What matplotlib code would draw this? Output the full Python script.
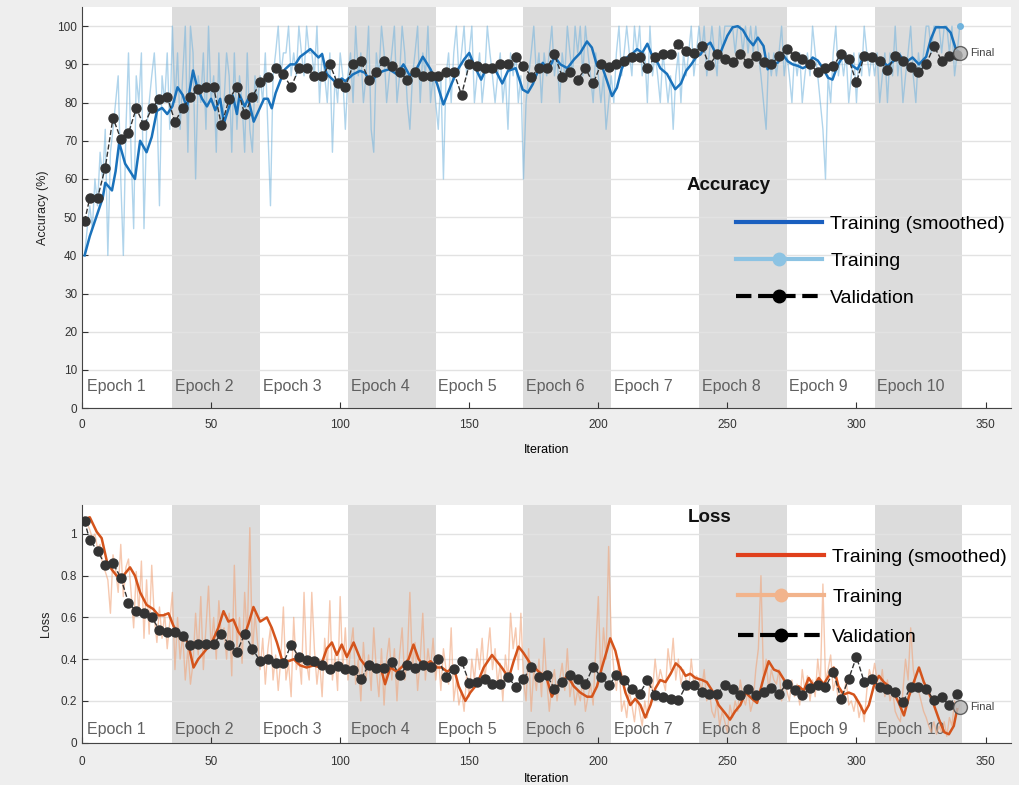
import numpy as np
import matplotlib
matplotlib.use("Agg")
import matplotlib.pyplot as plt
from matplotlib.lines import Line2D

plt.rcParams['font.family'] = ['Liberation Sans', 'DejaVu Sans']

# iterations per epoch and number of epochs
epoch_len = 34
n_epochs = 10

# raw training accuracy (%), one value per iteration, one row per epoch
train_acc = [
    40, 47, 53, 47, 60, 53, 67, 60, 73, 40, 67, 73, 80, 87, 60, 40, 73, 93, 67, 47, 87, 80, 93, 47, 73, 80, 87, 93, 80, 53, 87, 80, 93, 73,
    100, 80, 93, 73, 87, 100, 67, 100, 93, 60, 87, 80, 93, 73, 100, 80, 87, 67, 93, 73, 80, 93, 87, 67, 93, 73, 87, 80, 67, 93, 73, 67, 87, 80,
    87, 80, 93, 73, 53, 87, 93, 100, 87, 93, 93, 100, 87, 93, 87, 100, 93, 87, 100, 93, 93, 87, 100, 80, 93, 87, 80, 93, 67, 87, 80, 93, 87, 73,
    87, 93, 80, 100, 87, 93, 80, 87, 100, 73, 67, 93, 87, 100, 93, 80, 87, 93, 100, 80, 87, 100, 93, 80, 73, 87, 93, 100, 80, 93, 87, 100, 80, 87,
    80, 73, 87, 60, 87, 93, 80, 93, 100, 87, 93, 100, 87, 93, 100, 80, 87, 93, 80, 87, 100, 93, 87, 80, 87, 93, 80, 87, 73, 93, 87, 93, 80, 87,
    60, 80, 87, 93, 100, 87, 93, 80, 93, 87, 93, 100, 87, 93, 80, 93, 87, 100, 93, 87, 100, 93, 100, 87, 100, 93, 87, 80, 93, 87, 80, 87, 73, 80,
    87, 80, 93, 100, 87, 93, 100, 93, 87, 100, 93, 100, 87, 93, 80, 100, 87, 93, 87, 80, 93, 87, 80, 87, 73, 87, 93, 80, 93, 87, 93, 100, 87, 93,
    100, 93, 100, 87, 93, 100, 93, 87, 100, 93, 100, 100, 100, 100, 93, 100, 100, 93, 100, 93, 100, 93, 100, 93, 87, 80, 73, 93, 87, 93, 87, 93, 100, 87,
    93, 87, 80, 93, 87, 93, 80, 87, 93, 87, 100, 93, 87, 80, 73, 60, 87, 80, 93, 100, 87, 93, 87, 93, 80, 87, 93, 80, 93, 87, 100, 93, 87, 93,
    87, 93, 80, 87, 93, 80, 93, 87, 100, 87, 93, 80, 87, 93, 100, 87, 80, 93, 87, 93, 100, 100, 93, 100, 100, 100, 93, 100, 100, 93, 100, 87, 93, 100,
]

# raw training loss, one value per iteration
train_loss = [
    1.08, 1.05, 1.02, 0.98, 1.00, 0.93, 0.95, 0.85, 0.82, 0.78, 0.62, 0.90, 0.83, 0.72, 0.95, 0.70, 0.84, 0.88, 0.72, 0.55, 0.82, 0.62, 0.87, 0.50, 0.78, 0.52, 0.85, 0.60, 0.48, 0.65, 0.50, 0.62, 0.45, 0.58,
    0.72, 0.35, 0.60, 0.40, 0.52, 0.30, 0.45, 0.28, 0.38, 0.62, 0.42, 0.70, 0.35, 0.55, 0.75, 0.45, 0.60, 0.40, 0.68, 0.50, 0.55, 0.40, 0.62, 0.32, 0.85, 0.45, 0.60, 0.38, 0.72, 0.50, 1.03, 0.42, 0.62, 0.48,
    0.35, 0.50, 0.28, 0.45, 0.55, 0.30, 0.42, 0.25, 0.40, 0.65, 0.30, 0.38, 0.22, 0.60, 0.35, 0.42, 0.28, 0.72, 0.38, 0.30, 0.72, 0.45, 0.28, 0.40, 0.22, 0.50, 0.35, 0.68, 0.30, 0.42, 0.25, 0.70, 0.35, 0.55,
    0.30, 0.45, 0.55, 0.28, 0.40, 0.20, 0.48, 0.30, 0.42, 0.25, 0.55, 0.35, 0.22, 0.45, 0.18, 0.40, 0.50, 0.30, 0.45, 0.20, 0.42, 0.55, 0.30, 0.40, 0.72, 0.35, 0.48, 0.25, 0.40, 0.62, 0.30, 0.45, 0.35, 0.50,
    0.30, 0.42, 0.25, 0.45, 0.35, 0.28, 0.55, 0.20, 0.30, 0.18, 0.25, 0.15, 0.32, 0.22, 0.40, 0.30, 0.45, 0.35, 0.50, 0.30, 0.42, 0.55, 0.35, 0.45, 0.28, 0.38, 0.20, 0.42, 0.30, 0.62, 0.45, 0.55, 0.35, 0.62,
    0.30, 0.20, 0.45, 0.15, 0.35, 0.25, 0.40, 0.22, 0.50, 0.30, 0.15, 0.28, 0.35, 0.20, 0.30, 0.38, 0.25, 0.45, 0.22, 0.30, 0.18, 0.25, 0.20, 0.30, 0.15, 0.22, 0.28, 0.18, 0.45, 0.70, 0.30, 0.55, 0.40, 0.94,
    0.50, 0.35, 0.25, 0.40, 0.15, 0.20, 0.12, 0.25, 0.18, 0.10, 0.22, 0.15, 0.08, 0.20, 0.12, 0.30, 0.25, 0.40, 0.28, 0.35, 0.30, 0.25, 0.45, 0.35, 0.50, 0.30, 0.40, 0.28, 0.35, 0.30, 0.25, 0.40, 0.28, 0.32,
    0.30, 0.25, 0.35, 0.20, 0.25, 0.15, 0.12, 0.20, 0.08, 0.15, 0.10, 0.05, 0.18, 0.12, 0.20, 0.15, 0.30, 0.22, 0.18, 0.25, 0.15, 0.20, 0.35, 0.45, 0.80, 0.30, 0.40, 0.25, 0.35, 0.30, 0.28, 0.35, 0.20, 0.30,
    0.25, 0.20, 0.30, 0.22, 0.28, 0.18, 0.35, 0.25, 0.32, 0.20, 0.30, 0.22, 0.40, 0.28, 0.76, 0.30, 0.35, 0.42, 0.25, 0.30, 0.20, 0.25, 0.22, 0.30, 0.18, 0.20, 0.15, 0.22, 0.12, 0.18, 0.10, 0.25, 0.35, 0.30,
    0.38, 0.30, 0.25, 0.35, 0.22, 0.30, 0.20, 0.25, 0.15, 0.12, 0.10, 0.25, 0.40, 0.30, 0.55, 0.35, 0.28, 0.25, 0.20, 0.15, 0.12, 0.08, 0.05, 0.10, 0.04, 0.08, 0.05, 0.10, 0.03, 0.12, 0.08, 0.20, 0.15, 0.18,
]

# smoothed training accuracy
smooth_acc_it = [1, 3, 5.5, 8, 9, 11.6, 13, 14.4, 16.7, 18.6, 20.5, 22.5, 25, 27, 29, 31, 33, 35, 37, 39, 40.6, 43, 44.6, 46.5, 48.4, 50,
                 51.6, 53.5, 55, 56.7, 58.4, 60, 61, 63, 64.4, 66.5, 68.5, 70.5, 72, 73.5, 75, 76.8, 78.6, 80.7, 82.6, 84.5, 86.5, 88.4,
                 90.3, 91.6, 93, 94.8, 96.7, 98.7, 100.6, 102, 105, 107.7, 109.6, 112, 114, 116.8, 119, 122, 124.5, 127, 129.7, 132, 135,
                 137.5, 140, 143, 145.6, 148, 150, 152, 154.6, 157, 160, 162.8, 165, 168, 170.7, 172.7, 174.6, 176.6, 178.5, 180.6, 183,
                 185.3, 188, 190.6, 193, 195.6, 197.5, 199.5, 201.4, 203.4, 205.3, 207.2, 209, 211, 213, 215, 217, 219, 221, 223, 224,
                 226.6, 229.8, 232, 234, 236, 238, 239.6, 241.5, 243.4, 245.4, 247, 250, 252, 254, 256, 258, 260, 261.8, 264, 265.6, 267.6,
                 269.6, 271.4, 273.4, 275.3, 277.3, 279.2, 281, 283, 285, 287, 289, 290.7, 292.6, 294.6, 296.5, 298.5, 300.4, 302.3, 304.3,
                 306.8, 309.4, 312, 314.6, 316.5, 319, 321.7, 324.2, 327, 328.8, 330.7, 332.6, 334.6, 336.5, 338.5, 340]
smooth_acc = [40, 45, 50, 55, 59, 57, 62, 69.5, 64, 62, 60, 70, 67, 71, 77.8, 78.6, 77, 79, 84, 82, 78.6, 88.4, 84, 81, 79, 81,
              78, 81, 74.7, 78.3, 81.8, 77, 82, 79, 81, 75, 78, 81, 81, 78.5, 82.5, 85.7, 88.7, 90, 90, 92, 93, 94,
              92.7, 91.8, 92.7, 87.5, 86.3, 85, 86.3, 85.6, 87.4, 88.3, 87.8, 85, 87.4, 88.3, 88.7, 87.4, 90, 87, 89, 92, 88.7,
              85, 79.5, 84.7, 88.7, 91.3, 93, 89.6, 86, 89.6, 88.7, 85, 88.3, 89, 83.4, 82.6, 84.8, 88.3, 90.4, 88.3, 92,
              90, 89, 91.3, 93, 96, 94.4, 89.6, 89.6, 85.6, 81.7, 83.9, 88.7, 91.8, 92.6, 94, 93, 95.4, 92, 90.4, 89,
              87.5, 83.5, 85, 88.3, 90, 92, 92.6, 94.8, 95.7, 93, 92.6, 97.5, 99.7, 100, 99, 96.6, 95, 97, 94.8, 88.7, 90,
              90.5, 92.6, 90.8, 90, 89.6, 89, 89.6, 91.8, 91, 89, 86.5, 86, 89.6, 92, 91, 89.6, 88.7, 91.3, 92.6,
              91, 91.3, 89.6, 91, 92.6, 90.5, 91.8, 90, 92, 96.6, 99.7, 99.7, 99.7, 98.3, 94, 93]

# smoothed training loss
smooth_loss_it = [1, 3, 5.7, 7.6, 9.6, 11.5, 13.4, 16, 18.6, 20.5, 22.5, 25, 27.6, 29.6, 31.5, 33.5, 35.4, 37.4, 39.3, 41.2, 43.2,
                  45, 47.7, 50.3, 52.8, 54.8, 56.7, 58.6, 60.6, 62.5, 64.5, 66.4, 69, 71.6, 73.5, 75.5, 77.4, 80, 82, 84.5, 87, 89.7,
                  92.3, 94.8, 96.8, 98.7, 100.6, 102.6, 105.2, 107.8, 110.3, 112.9, 115.5, 117.4, 119.4, 122, 124.5, 126.5, 128.4,
                  130.4, 132.3, 135, 137.5, 139.4, 141.4, 144, 145.9, 148.5, 150.4, 153, 155.6, 158.8, 160.7, 162.6, 165.3, 167.2,
                  169.1, 171, 173.6, 176.9, 180, 182, 184, 186, 188, 190.5, 193, 195.6, 197.5, 199.5, 201.4, 203.3, 204.6, 206.6,
                  208.5, 210.5, 212.4, 214.3, 216.3, 218.2, 220.2, 222.1, 224, 226, 228, 230, 231.8, 233.8, 235.6, 237.6, 240.2, 242,
                  244.6, 246.6, 249.2, 251, 253, 255, 257, 259.6, 261.5, 264, 266, 268, 270, 272, 274, 275.7, 277.6, 279.6, 281.5,
                  283.5, 285.4, 287.3, 289.3, 291.2, 293, 295, 297, 299, 301, 303, 304.8, 306.7, 308.7, 310.6, 312.6, 314.5, 316.4,
                  318.4, 320.3, 322.2, 324.2, 326.1, 328, 330, 332, 334, 335.8, 337.7, 339]
smooth_loss = [1.07, 1.08, 1.01, 0.98, 0.87, 0.83, 0.80, 0.80, 0.84, 0.80, 0.72, 0.66, 0.64, 0.61, 0.61, 0.62, 0.56, 0.52, 0.52, 0.47, 0.36,
               0.40, 0.44, 0.48, 0.55, 0.63, 0.58, 0.59, 0.53, 0.50, 0.57, 0.65, 0.58, 0.60, 0.55, 0.48, 0.40, 0.39, 0.40, 0.37, 0.36, 0.37,
               0.36, 0.45, 0.48, 0.42, 0.47, 0.41, 0.48, 0.40, 0.36, 0.37, 0.37, 0.28, 0.36, 0.34, 0.37, 0.40, 0.47,
               0.40, 0.37, 0.39, 0.36, 0.36, 0.34, 0.36, 0.27, 0.20, 0.24, 0.28, 0.36, 0.42, 0.39, 0.36, 0.31, 0.39,
               0.46, 0.43, 0.38, 0.34, 0.31, 0.22, 0.27, 0.29, 0.32, 0.27, 0.24, 0.22, 0.22, 0.27, 0.36, 0.44, 0.50, 0.44,
               0.34, 0.24, 0.18, 0.21, 0.18, 0.12, 0.18, 0.26, 0.30, 0.29, 0.33, 0.38, 0.36, 0.32, 0.33, 0.31, 0.30, 0.29,
               0.24, 0.18, 0.14, 0.11, 0.15, 0.18, 0.24, 0.21, 0.19, 0.31, 0.39, 0.35, 0.34, 0.30, 0.27, 0.25, 0.27, 0.25, 0.31,
               0.27, 0.31, 0.28, 0.32, 0.36, 0.27, 0.23, 0.24, 0.23, 0.19, 0.14, 0.18, 0.27, 0.32, 0.29, 0.27, 0.24, 0.19,
               0.13, 0.22, 0.29, 0.36, 0.29, 0.24, 0.18, 0.11, 0.05, 0.04, 0.08, 0.16]

# validation every 3 iterations (first check at iteration 1)
val_it = [1] + list(range(3, 340, 3))
val_acc = [49, 55, 55, 63, 76, 70.5, 72, 78.5, 74, 78.5,
           81, 81.5, 75, 78.5, 81.5, 83.5, 84, 84, 74, 81,
           84, 77, 81.5, 85.3, 86.8, 89, 87.4, 84, 89, 89,
           87, 87, 90, 85, 84, 90, 91, 86, 88, 91,
           89.6, 88, 86, 88, 87, 87, 87, 88, 88, 82,
           90, 89.6, 89, 89, 90, 90, 92, 89.6, 86.8, 89,
           89, 92.6, 86.8, 88, 86, 89, 85, 90, 89.3, 90,
           91, 92, 92, 89, 92, 92.8, 92.6, 95.3, 93.5, 93,
           94.8, 89.8, 92.6, 91.3, 90.5, 92.6, 90.3, 92.3, 90.5, 90,
           92.2, 94, 92.3, 91.3, 90, 88, 89, 89.6, 92.6, 91.3,
           85.3, 92.3, 92, 91, 88.5, 92.3, 91, 89.3, 88, 90,
           94.8, 91, 92.2, 92.4]
val_loss = [1.06, 0.97, 0.92, 0.85, 0.86, 0.79, 0.67, 0.63, 0.62, 0.60,
            0.54, 0.53, 0.53, 0.51, 0.47, 0.475, 0.475, 0.475, 0.52, 0.47,
            0.435, 0.52, 0.45, 0.39, 0.40, 0.38, 0.38, 0.47, 0.41, 0.395,
            0.39, 0.374, 0.352, 0.366, 0.352, 0.347, 0.303, 0.37, 0.358, 0.358,
            0.387, 0.323, 0.37, 0.358, 0.37, 0.363, 0.40, 0.315, 0.355, 0.39,
            0.287, 0.29, 0.306, 0.282, 0.282, 0.315, 0.267, 0.306, 0.363, 0.315,
            0.323, 0.259, 0.29, 0.323, 0.306, 0.282, 0.363, 0.315, 0.274, 0.323,
            0.298, 0.259, 0.235, 0.298, 0.226, 0.218, 0.21, 0.202, 0.274, 0.274,
            0.242, 0.235, 0.235, 0.274, 0.259, 0.226, 0.259, 0.226, 0.242, 0.261,
            0.235, 0.282, 0.25, 0.226, 0.261, 0.274, 0.266, 0.339, 0.21, 0.306,
            0.411, 0.29, 0.306, 0.266, 0.259, 0.242, 0.194, 0.266, 0.266, 0.259,
            0.202, 0.218, 0.178, 0.235]

final_it = 340
final_acc = 93
final_loss = 0.17

iters = np.arange(1, len(train_acc) + 1)

fig = plt.figure(figsize=(10.19, 7.85), dpi=100, facecolor='#eeeeee')
ax1 = fig.add_axes([0.0805, 0.480, 0.912, 0.511])
ax2 = fig.add_axes([0.0805, 0.054, 0.912, 0.303])


def style_axes(ax, ylim, yticks, ylabel, xpad):
    ax.set_facecolor('white')
    ax.set_xlim(0, 360)
    ax.set_ylim(*ylim)
    ax.set_xticks(range(0, 351, 50))
    ax.set_yticks(yticks)
    for t in yticks:
        ax.axhline(t, color='#e2e2e2', lw=1, zorder=1)
    # epoch e covers iterations 34e+1 .. 34(e+1)
    for e in range(n_epochs):
        x0 = e * epoch_len + 1
        if e % 2 == 1:
            ax.axvspan(x0, x0 + epoch_len, color='#dcdcdc', lw=0, zorder=0)
        ax.text(x0 + 1, 0.055, 'Epoch %d' % (e + 1), transform=ax.get_xaxis_transform(),
                fontsize=11.5, color='#606060', va='center', ha='left', zorder=2)
    for s in ['top', 'right']:
        ax.spines[s].set_visible(False)
    for s in ['left', 'bottom']:
        ax.spines[s].set_color('#444444')
    ax.tick_params(direction='in', length=4, labelsize=8.5, colors='#333333')
    ax.tick_params(axis='x', pad=xpad)
    ax.set_ylabel(ylabel, fontsize=9, color='#222222', labelpad=6)


style_axes(ax1, (0, 105), list(range(0, 101, 10)), 'Accuracy (%)', 7.8)
style_axes(ax2, (0, 1.14), [0, 0.2, 0.4, 0.6, 0.8, 1], 'Loss', 10)
ax2.set_yticklabels(['0', '0.2', '0.4', '0.6', '0.8', '1'])
ax1.set_xlabel('Iteration', fontsize=9, labelpad=9.5)
ax2.set_xlabel('Iteration', fontsize=9, labelpad=3)

blue_raw = '#6fb2dc'
blue_s = '#1a72bb'
orange_raw = '#f0a47a'
orange_s = '#d4541c'
val_col = '#333333'

# accuracy panel
ax1.plot(iters, train_acc, color=blue_raw, lw=1, alpha=0.55, zorder=3)
ax1.plot(smooth_acc_it, smooth_acc, color=blue_s, lw=1.8, zorder=4)
ax1.plot(val_it, val_acc, color=val_col, ls='--', lw=1, marker='o', ms=6.5,
         markerfacecolor=val_col, markeredgecolor=val_col, zorder=5)
ax1.plot([final_it], [train_acc[-1]], 'o', color=blue_raw, ms=4, zorder=6)
ax1.plot([final_it], [final_acc], 'o', ms=10, markerfacecolor='#b5b5b5',
         markeredgecolor='#444444', alpha=0.8, zorder=6)
ax1.text(final_it + 4, final_acc, 'Final', fontsize=8, color='#444444', va='center')

# loss panel
ax2.plot(iters, train_loss, color=orange_raw, lw=1, alpha=0.6, zorder=3)
ax2.plot(smooth_loss_it, smooth_loss, color=orange_s, lw=1.8, zorder=4)
ax2.plot(val_it, val_loss, color=val_col, ls='--', lw=1, marker='o', ms=6.5,
         markerfacecolor=val_col, markeredgecolor=val_col, zorder=5)
ax2.plot([final_it], [final_loss], 'o', ms=10, markerfacecolor='#b5b5b5',
         markeredgecolor='#444444', alpha=0.8, zorder=6)
ax2.text(final_it + 4, final_loss, 'Final', fontsize=8, color='#444444', va='center')


def add_legend(ax, title, title_xy, anchor, spacing, c_smooth, c_raw):
    fig.text(title_xy[0], title_xy[1], title, fontsize=13.5, fontweight='bold',
             color='#111111', va='center', ha='left')
    handles = [
        Line2D([], [], color=c_smooth, lw=3),
        Line2D([], [], color=c_raw, lw=3, marker='o', ms=9, markevery=[1]),
        Line2D([], [], color='black', lw=3, ls='--', marker='o', ms=9, markevery=[1]),
    ]
    for h in handles:
        h.set_xdata([0, 0.5, 1])
    leg = ax.legend(handles, ['Training (smoothed)', 'Training', 'Validation'],
                    loc='upper left', bbox_to_anchor=anchor, bbox_transform=fig.transFigure,
                    frameon=False, fontsize=14, handlelength=4.4, handletextpad=0.45,
                    labelspacing=spacing, borderpad=0, borderaxespad=0)
    leg.set_zorder(10)


add_legend(ax1, 'Accuracy', (687 / 1019, 1 - 185 / 785), (736 / 1019, 1 - 215 / 785), 1.0,
           '#1a5fbf', '#8cc3e3')
add_legend(ax2, 'Loss', (688 / 1019, 1 - 517 / 785), (738 / 1019, 1 - 548 / 785), 1.15,
           '#e0401c', '#f2b48c')

fig.savefig('out.png', dpi=100, facecolor=fig.get_facecolor())
